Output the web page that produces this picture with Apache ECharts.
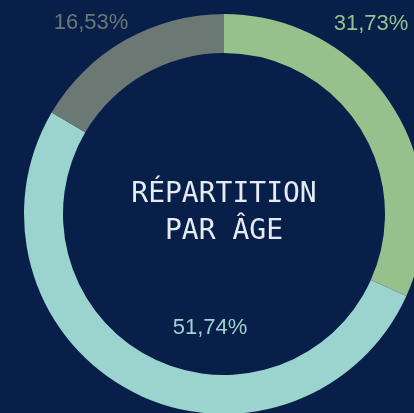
<!DOCTYPE html>
<html>
<head>
<meta charset="utf-8">
<script src="https://cdn.jsdelivr.net/npm/echarts@6/dist/echarts.min.js"></script>
<style>
  html, body { margin: 0; padding: 0; background: #081f4a; }
  #chart { width: 414px; height: 413px; }
</style>
</head>
<body>
<div id="chart"></div>
<script>
// age groups, shares in %
const categories = ['Groupe 1', 'Groupe 2', 'Groupe 3']
const values = [31.73, 51.74, 16.53]
const colors = ['#97c18c', '#9bd3cf', '#6b7873']
const labelPos = [[371, 24], [210, 328], [91, 23]]

const chart = echarts.init(document.getElementById('chart'))
chart.setOption({
  backgroundColor: '#081f4a',
  animation: false,
  graphic: [{
    type: 'text',
    x: 224,
    y: 213,
    style: {
      text: 'RÉPARTITION\nPAR ÂGE',
      align: 'center',
      verticalAlign: 'middle',
      fill: '#e6ebf2',
      font: '28px "DejaVu Sans Mono"',
      lineHeight: 37
    }
  }],
  series: [{
    type: 'pie',
    center: [224, 214],
    radius: [161, 200],
    startAngle: 90,
    clockwise: true,
    avoidLabelOverlap: false,
    data: categories.map((c, i) => ({
      name: c,
      value: values[i],
      itemStyle: { color: colors[i] },
      label: { color: colors[i] }
    })),
    label: {
      show: true,
      position: 'outside',
      fontFamily: 'Liberation Sans',
      fontSize: 22,
      formatter: (p) => p.value.toFixed(2).replace('.', ',') + '%'
    },
    labelLine: { show: false },
    labelLayout: (p) => ({
      x: labelPos[p.dataIndex][0],
      y: labelPos[p.dataIndex][1],
      align: 'center',
      verticalAlign: 'middle'
    }),
    emphasis: { disabled: true }
  }]
})
</script>
</body>
</html>
